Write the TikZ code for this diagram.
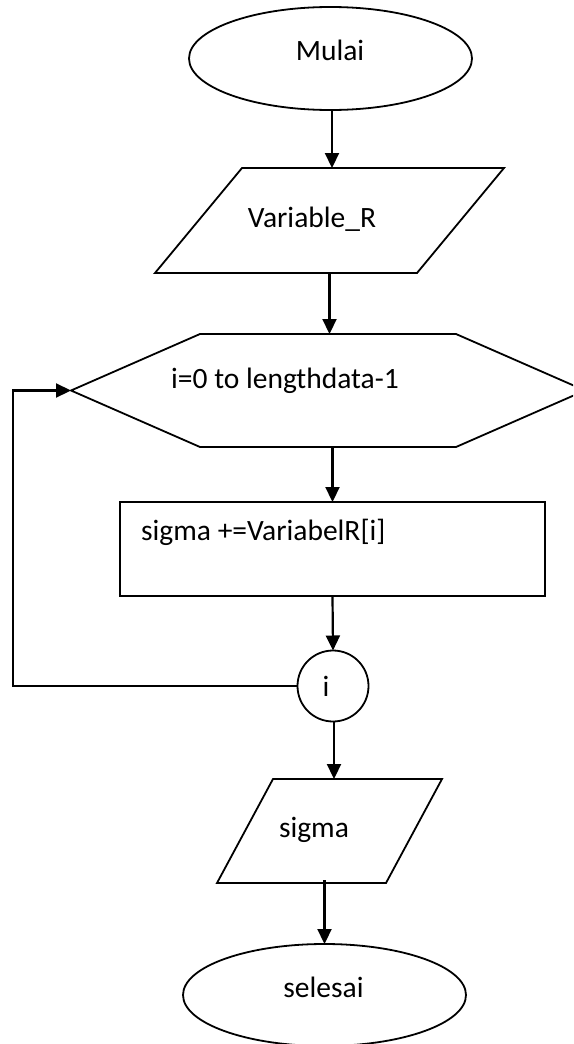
\documentclass[tikz,border=0pt]{standalone}
\usepackage{fontspec}
\setmainfont{Carlito}
\usetikzlibrary{shapes.geometric,arrows.meta}

\tikzset{
  frame/.style={draw=none, inner sep=0pt, outer sep=0pt},
  terminal/.style={ellipse, draw=black, line width=1.8pt, inner sep=0pt, outer sep=0pt},
  outline/.style={draw=black, line width=1.8pt, line join=miter},
  connector/.style={draw=black, line width=2.2pt, -{Triangle[length=15pt,width=14pt]}},
  label/.style={inner sep=0pt, font=\fontsize{29.5}{35}\selectfont},
}

\begin{document}
\begin{tikzpicture}[x=1pt, y=-1pt]
  \useasboundingbox (0,0) rectangle (573,1044);
  \clip (0,0) rectangle (573,1044);

  % start terminal
  \node[terminal, minimum width=283pt, minimum height=103pt] (mulai) at (330.5,58.5) {};
  \node[label, anchor=base] (mulaiT) at (330,60) {Mulai};

  % input: Variable_R
  \node[frame, minimum width=349pt, minimum height=105pt] (var) at (329.5,220.5) {};
  \draw[outline] ([xshift=87]var.north west) -- (var.north east)
        -- ([xshift=-87]var.south east) -- (var.south west) -- cycle;
  \node[label, anchor=base] (varT) at (312,227) {Variable\_R};

  % loop header
  \node[frame, minimum width=514pt, minimum height=113pt] (hex) at (328,390.5) {};
  \draw[outline] (hex.west) -- ([xshift=129]hex.north west) -- ([xshift=-129]hex.north east)
        -- (hex.east) -- ([xshift=-129]hex.south east) -- ([xshift=129]hex.south west) -- cycle;
  \node[label, anchor=base west] (hexT) at (171,388.5) {i=0 to lengthdata-1};

  % process
  \node[frame, outline, minimum width=425pt, minimum height=94pt] (proc) at (332.5,549) {};
  \node[label, anchor=base west] (procT) at (141,540) {sigma +=VariabelR[i]};

  % loop connector
  \node[circle, outline, minimum size=71pt, inner sep=0pt, outer sep=0pt] (circ) at (333,686) {};
  \node[label, anchor=base] (circT) at (326,696) {i};

  % output: sigma
  \node[frame, minimum width=225pt, minimum height=104pt] (sig) at (329.5,831) {};
  \draw[outline] ([xshift=56]sig.north west) -- (sig.north east)
        -- ([xshift=-56]sig.south east) -- (sig.south west) -- cycle;
  \node[label, anchor=base] (sigT) at (314,837) {sigma};

  % end terminal
  \node[terminal, minimum width=283pt, minimum height=102pt] (selesai) at (324.5,995) {};
  \node[label, anchor=base] (selesaiT) at (323.5,997) {selesai};

  % flow
  \draw[connector] ([xshift=1.5]mulai.south) -- ([xshift=1.5]mulai.south |- var.north);
  \draw[connector] (var.south) -- (var.south |- hex.north);
  \draw[connector] (proc.north |- hex.south) -- (proc.north);
  \draw[connector] (proc.south) -- (circ.north);
  \draw[connector] ([xshift=1]circ.south) -- ([xshift=1]circ.south |- sig.north);
  \draw[connector] ([yshift=3]selesai.north |- sig.south) -- (selesai.north);

  % back edge to the loop header
  \coordinate (back) at (13,686);
  \draw[connector] (circ.west) -- (back) |- (hex.west);
\end{tikzpicture}
\end{document}
